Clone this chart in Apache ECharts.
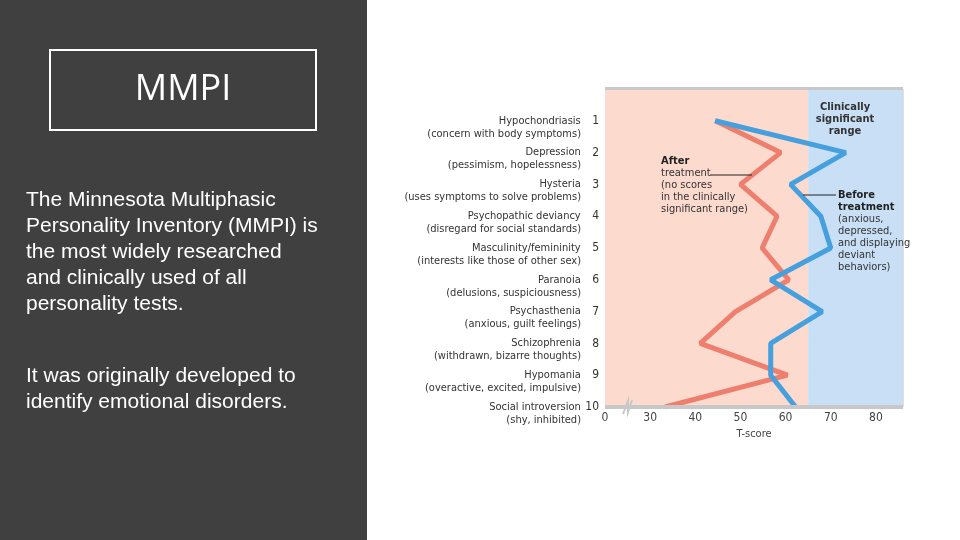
<!DOCTYPE html>
<html><head><meta charset="utf-8">
<script src="https://cdn.jsdelivr.net/npm/echarts@6/dist/echarts.min.js"></script>
<style>html,body{margin:0;padding:0;background:#fff}#c{width:960px;height:540px}</style>
</head><body><div id="c"></div>
<script>
var scales = ['Hypochondriasis', 'Depression', 'Hysteria', 'Psychopathic deviancy', 'Masculinity/femininity',
  'Paranoia', 'Psychasthenia', 'Schizophrenia', 'Hypomania', 'Social introversion'];
var notes = ['(concern with body symptoms)', '(pessimism, hopelessness)', '(uses symptoms to solve problems)',
  '(disregard for social standards)', '(interests like those of other sex)', '(delusions, suspiciousness)',
  '(anxious, guilt feelings)', '(withdrawn, bizarre thoughts)', '(overactive, excited, impulsive)', '(shy, inhibited)'];
var before = [44.4, 73.3, 61.1, 67.8, 70, 56.7, 68.1, 56.7, 56.7, 62.2];
var after = [44.4, 58.9, 50, 58.1, 54.8, 60.7, 48.9, 41.1, 60.4, 33.3];
var clinicalCut = 65;

var font = '"Liberation Sans Narrow", "DejaVu Sans Condensed", sans-serif';
function pts(arr) { return arr.map(function (v, i) { return [v, i + 1]; }); }

var chart = echarts.init(document.getElementById('c'));
chart.setOption({
  animation: false,
  grid: [
    { left: 605, right: 57, top: 89, bottom: 133 },
    { left: 605, right: 57, top: 102, bottom: 120 }
  ],
  xAxis: [{
    type: 'value', min: 20, max: 86, interval: 10,
    name: 'T-score', nameLocation: 'middle', nameGap: 22,
    nameTextStyle: { fontFamily: font, fontSize: 11, color: '#444' },
    axisLine: { show: false }, axisTick: { show: false },
    axisLabel: { fontFamily: font, fontSize: 12, color: '#444', margin: 5,
      formatter: function (v) { return v === 20 ? '0' : (v > 80 ? '' : v); } },
    splitLine: { lineStyle: { color: '#e4ddd8', width: 1 } }
  }, { gridIndex: 1, type: 'value', min: 20, max: 86, show: false }],
  yAxis: [{
    type: 'value', min: 0, max: 10, interval: 1, inverse: true,
    axisLine: { show: false }, axisTick: { show: false },
    splitLine: { lineStyle: { color: '#d9d2ce', width: 1 } },
    axisLabel: {
      margin: 6, showMaxLabel: true,
      formatter: function (v) { return v < 1 ? '' : '{n|' + scales[v - 1] + '  }{k|' + v + '}'; },
      rich: {
        n: { fontFamily: font, fontSize: 11, color: '#333' },
        k: { fontFamily: font, fontSize: 12, color: '#333', width: 12, align: 'right' }
      }
    }
  }, {
    gridIndex: 1, type: 'value', min: 0, max: 10, interval: 1, inverse: true,
    axisLine: { show: false }, axisTick: { show: false }, splitLine: { show: false },
    axisLabel: {
      margin: 24, showMaxLabel: true, fontFamily: font, fontSize: 11, color: '#333',
      formatter: function (v) { return v < 1 ? '' : notes[v - 1]; }
    }
  }],
  series: [
    { type: 'line', data: pts(after), symbol: 'none', z: 3,
      lineStyle: { color: '#ee7f6e', width: 5 },
      markArea: { silent: true, data: [
        [{ xAxis: 20, itemStyle: { color: '#fcdacd' } }, { xAxis: clinicalCut }],
        [{ xAxis: clinicalCut, itemStyle: { color: '#c8dff6' } }, { xAxis: 86 }]
      ] } },
    { type: 'line', data: pts(before), symbol: 'none', z: 4,
      lineStyle: { color: '#45a0dd', width: 5 } }
  ],
  graphic: [
    { type: 'rect', shape: { x: 0, y: 0, width: 367, height: 540 }, style: { fill: '#404040' } },
    { type: 'rect', shape: { x: 50, y: 50, width: 266, height: 80 }, style: { fill: 'none', stroke: '#fff', lineWidth: 2 } },
    { type: 'text', x: 183, y: 90, style: { text: 'MMPI', fill: '#fff', font: '36px "Open Sans", sans-serif', align: 'center', verticalAlign: 'middle' } },
    { type: 'text', x: 26, y: 187, style: { text: 'The Minnesota Multiphasic\nPersonality Inventory (MMPI) is\nthe most widely researched\nand clinically used of all\npersonality tests.', fill: '#fff', font: '21px "Liberation Sans", sans-serif', lineHeight: 26 } },
    { type: 'text', x: 26, y: 363, style: { text: 'It was originally developed to\nidentify emotional disorders.', fill: '#fff', font: '21px "Liberation Sans", sans-serif', lineHeight: 26 } },
    { type: 'rect', shape: { x: 605, y: 87, width: 298, height: 3 }, style: { fill: '#c8c8c8' }, z: 10 },
    { type: 'rect', shape: { x: 605, y: 405, width: 298, height: 4 }, style: { fill: '#c8c8c8' }, z: 10 },
    { type: 'polyline', shape: { points: [[623, 414], [628, 401], [628, 412], [632, 400]] }, style: { stroke: '#c8c8c8', lineWidth: 2, fill: 'none' }, z: 11 },
    { type: 'text', x: 845, y: 101, z: 12, style: { text: 'Clinically\nsignificant\nrange', fill: '#333', font: 'bold 11px ' + font, align: 'center', lineHeight: 12 } },
    { type: 'text', x: 661, y: 155, z: 12, style: { rich: { b: { font: 'bold 11px ' + font, fill: '#222', lineHeight: 12 }, r: { font: '11px ' + font, fill: '#333', lineHeight: 12 } }, text: '{b|After}\n{r|treatment}\n{r|(no scores}\n{r|in the clinically}\n{r|significant range)}' } },
    { type: 'line', shape: { x1: 710, y1: 175, x2: 752, y2: 175 }, style: { stroke: '#222', lineWidth: 1 }, z: 12 },
    { type: 'text', x: 838, y: 189, z: 12, style: { rich: { b: { font: 'bold 11px ' + font, fill: '#222', lineHeight: 12 }, r: { font: '11px ' + font, fill: '#333', lineHeight: 12 } }, text: '{b|Before}\n{b|treatment}\n{r|(anxious,}\n{r|depressed,}\n{r|and displaying}\n{r|deviant}\n{r|behaviors)}' } },
    { type: 'line', shape: { x1: 803, y1: 195, x2: 836, y2: 195 }, style: { stroke: '#222', lineWidth: 1 }, z: 12 }
  ]
});
</script></body></html>
